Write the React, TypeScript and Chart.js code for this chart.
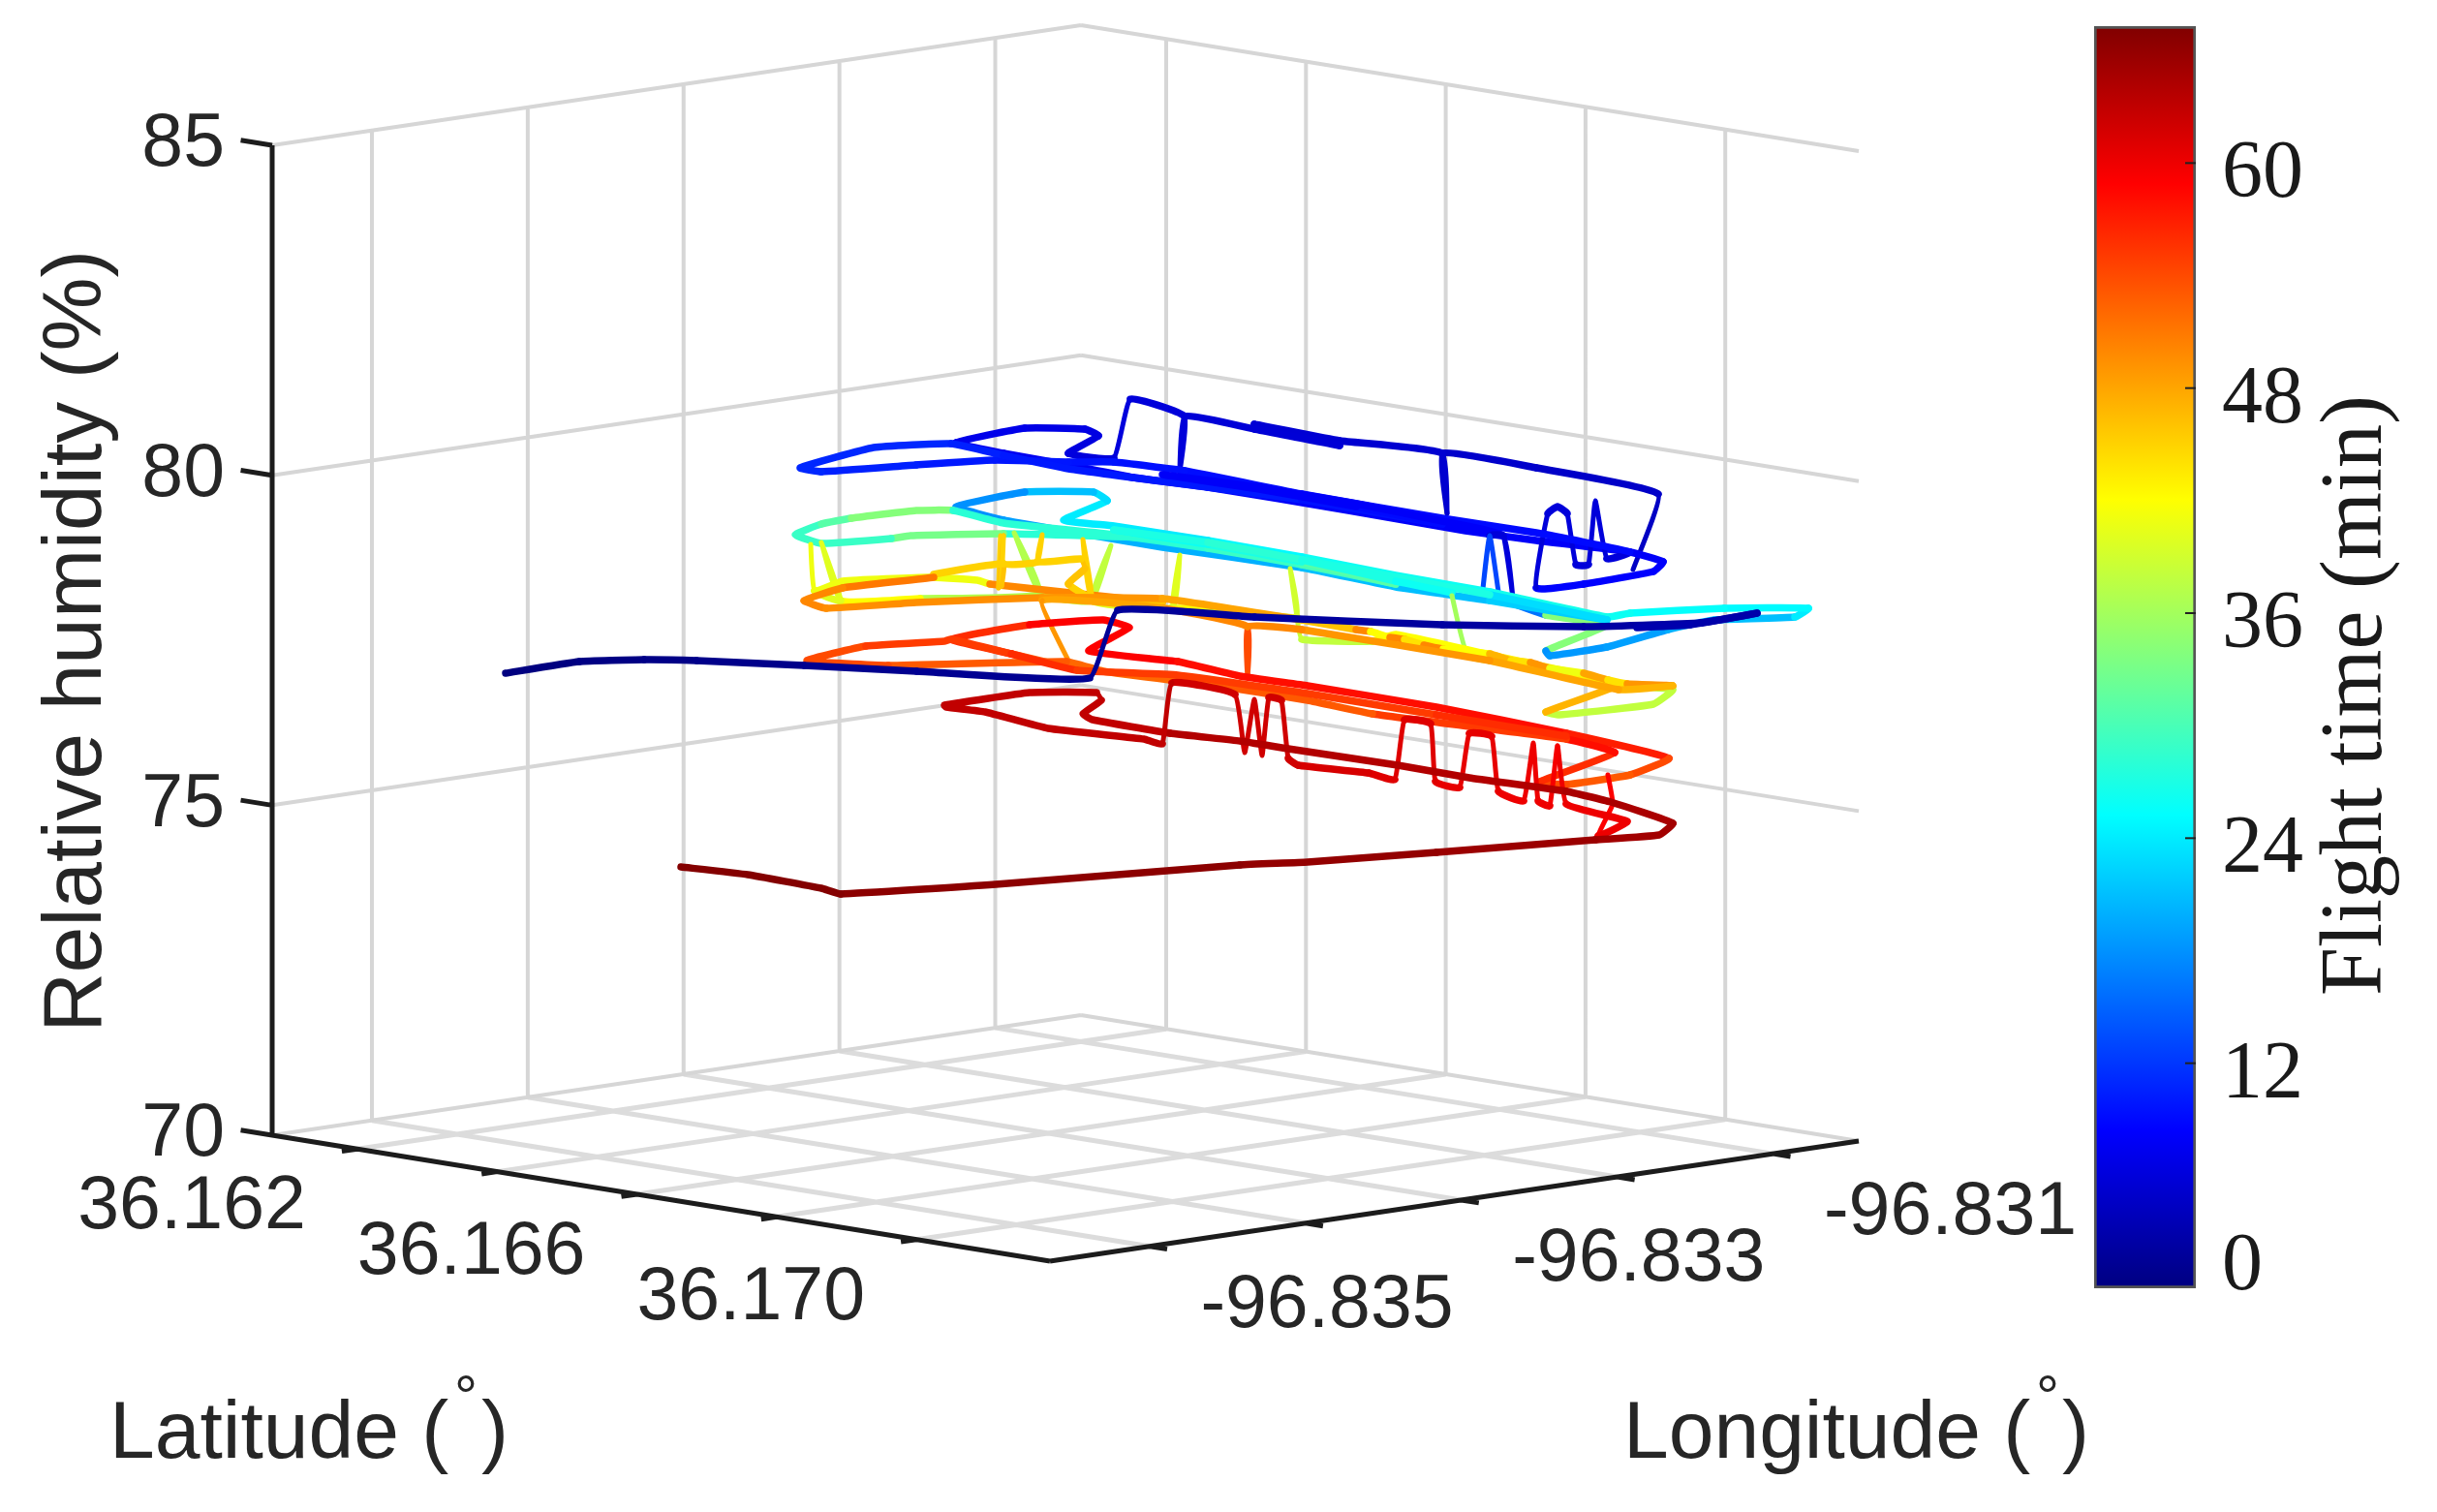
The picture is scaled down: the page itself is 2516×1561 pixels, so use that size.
import { useEffect, useRef } from 'react'
import { Chart, registerables } from 'chart.js'
Chart.register(...registerables)

const W = 2516
const H = 1561

// axis ranges and ticks
const lonMin = -96.83564
const lonMax = -96.83045
const latMin = 36.16078
const latMax = 36.17191
const rhMin = 70
const rhMax = 85
const lonTicks = [-96.835, -96.834, -96.833, -96.832, -96.831]
const latTicks = [36.162, 36.164, 36.166, 36.168, 36.170]
const rhTicks = [70, 75, 80, 85]
const lonLabels = ['-96.835', '-96.833', '-96.831']
const latLabels = ['36.162', '36.166', '36.170']
const timeMax = 67.3
const timeTicks = [0, 12, 24, 36, 48, 60]

// flight track, in view units, with minutes
const navyX = [522, 598, 665, 719, 830, 946, 1125, 1154, 1295, 1489, 1635, 1756, 1814, 1745, 1690]
const navyY = [695, 683, 681, 682, 687, 693, 700, 630, 637, 645, 647, 643, 633, 645, 648]
const navyT = [0, 0.3, 0.5, 0.7, 1, 1.2, 1.5, 1.7, 2, 2.2, 2.4, 2.6, 2.8, 3, 3.2]

const topX = [1686, 1712, 1586, 1489, 1494, 1489, 1383, 1295, 1383, 1295, 1223, 1218, 1223, 1167, 1150, 1103, 1134, 1120, 1058, 987, 1036, 1103, 1170, 1247, 1392, 1513, 1586, 1683, 1717, 1707, 1635, 1586, 1598, 1608, 1618, 1627, 1640, 1647, 1659, 1683, 1586, 1489, 1344, 1223, 1150, 1103, 1027, 946, 848, 826, 902, 982, 1036, 1103, 1200, 1344, 1489, 1400, 1300, 1200, 1300, 1400, 1489, 1552, 1562, 1552, 1538, 1530, 1538, 1548]
const topY = [588, 510, 483, 468, 530, 468, 455, 438, 460, 443, 430, 487, 430, 412, 473, 468, 450, 443, 442, 457, 468, 480, 493, 503, 527, 548, 558, 570, 580, 590, 603, 607, 530, 523, 530, 583, 583, 517, 577, 570, 550, 535, 510, 486, 477, 477, 475, 480, 487, 483, 462, 458, 470, 484, 497, 516, 541, 523, 505, 490, 503, 520, 538, 553, 618, 553, 553, 617, 553, 618]
const topT = [4.5, 4.8, 5, 5.2, 5.3, 5.4, 5.5, 5.6, 5.7, 5.8, 5.9, 6, 6, 6.1, 6.2, 6.3, 6.5, 6.7, 7, 7.2, 7.4, 7.6, 7.8, 8, 8, 8, 8, 8, 8.2, 8.4, 8.6, 6, 6, 6, 6, 6, 6, 6, 6, 9, 9, 9, 9.2, 9.4, 9.6, 9.8, 10, 10.5, 11, 11, 11, 10.5, 10, 10, 10, 9.5, 9, 8, 8, 8, 8, 8, 8, 6, 6, 6, 13, 13, 13, 13]

const cyanX = [1548, 1596, 1659, 1596, 1600, 1659, 1722, 1770, 1853, 1867, 1780, 1683, 1659, 1538, 1441, 1344, 1247, 1150, 1098, 1143, 1129, 1058, 987, 1036, 1100, 1200, 1344, 1441, 1538, 1659, 1538, 1344, 1200, 1036, 940, 920, 848, 821, 848, 879, 946, 984, 1036, 1150, 1247, 1344, 1441, 1344, 1247, 1150, 1247, 1344, 1441, 1499, 1499]
const cyanY = [618, 635, 645, 672, 677, 668, 650, 640, 637, 628, 628, 633, 637, 611, 594, 575, 558, 543, 537, 517, 508, 508, 523, 537, 548, 565, 586, 606, 620, 640, 614, 578, 556, 551, 553, 556, 561, 552, 541, 535, 527, 527, 540, 552, 566, 583, 603, 580, 562, 547, 560, 578, 600, 612, 615]
const cyanT = [16, 34, 34, 18, 18.5, 19, 20, 21, 24, 25, 25.5, 26, 26.5, 26, 26, 25, 24, 24, 24, 23, 21, 18, 18, 19, 20, 20, 21, 21, 22, 23, 27, 28, 28, 33, 33, 29, 29, 29, 31, 34, 34, 28, 28, 28, 29, 30, 31, 27, 26, 27, 28, 27, 26, 27, 36]

const yellowX = [1499, 1516, 1600, 1671, 1727, 1707, 1610, 1596, 1671, 1635, 1538, 1441, 1417, 1344, 1339, 1332, 1339, 1247, 1211, 1218, 1211, 1127, 1147, 1127, 1074, 1047, 1074, 950, 868, 848, 868, 841, 837, 841, 870, 960, 1009, 1022, 1200, 1127, 1118, 1127, 1103, 1120, 1116, 1071, 1076, 1071, 1036, 1033, 1031, 1036, 1034, 1036, 964, 964, 870, 830, 853, 946, 1076, 1200, 1344, 1400, 1415, 1435, 1450, 1470, 1490, 1538, 1560, 1580, 1600, 1635, 1660, 1680, 1727, 1671, 1538, 1344, 1288, 1288, 1288, 1200, 1076, 1107]
const yellowY = [615, 677, 690, 707, 712, 727, 738, 735, 707, 697, 676, 655, 662, 660, 637, 587, 637, 627, 627, 573, 627, 620, 563, 620, 613, 550, 613, 618, 620, 560, 620, 610, 562, 610, 600, 596, 599, 603, 622, 617, 557, 617, 603, 587, 577, 580, 552, 580, 582, 553, 607, 553, 605, 582, 593, 596, 607, 620, 628, 622, 617, 618, 640, 650, 652, 658, 660, 666, 670, 675, 682, 684, 690, 695, 702, 706, 708, 712, 682, 650, 647, 700, 647, 628, 620, 690]
const yellowT = [36, 36.5, 37, 38, 38, 38, 38, 47, 44, 43, 42, 42, 38, 38.5, 39, 39, 39, 42, 40, 40, 40, 38, 38, 38, 37, 37, 37, 42, 40, 40, 40, 41, 41, 41, 41, 41, 41, 50, 46, 45, 45, 45, 46, 46, 45, 45, 45, 45, 45, 45, 46, 45, 46, 45, 45, 51, 50, 50, 49.5, 49.5, 49, 48, 46, 50, 42, 50, 44, 50, 42, 47, 44, 49, 41, 48, 44, 49, 47, 48, 49, 50, 54, 54, 50, 48, 49, 50]

const redX = [1107, 1044, 982, 1063, 1139, 1166, 1124, 1216, 1280, 1350, 1483, 1617, 1723, 1683, 1617, 1590, 1667, 1617, 1517, 1417, 1350, 1250, 1216, 1139, 1101, 917, 833, 894, 975, 982, 1044, 1112, 1216, 1350, 1483, 1617]
const redY = [690, 675, 660, 645, 640, 648, 672, 683, 698, 708, 730, 757, 783, 800, 810, 807, 777, 763, 750, 737, 723, 707, 703, 693, 683, 687, 682, 667, 662, 660, 675, 692, 697, 716, 738, 760]
const redT = [53, 56, 56, 59, 59, 59, 59, 58, 58, 58, 58, 57, 54, 53, 54, 56, 58, 55, 55, 53, 53, 52, 52, 52, 53, 54, 54, 55, 55, 55, 56, 55, 55, 55, 56, 56]

const darkX = [1660, 1665, 1650, 1680, 1617, 1608, 1600, 1588, 1583, 1573, 1547, 1540, 1517, 1507, 1482, 1477, 1450, 1440, 1413, 1340, 1330, 1323, 1310, 1303, 1295, 1285, 1275, 1210, 1200, 1181, 1082, 1017, 977, 975, 1063, 1132, 1137, 1118, 1128, 1208, 1280, 1330, 1443, 1517, 1617, 1663, 1727, 1713, 1647, 1483, 1350, 1280, 1028, 868, 848, 772, 703]
const darkY = [800, 830, 863, 848, 830, 770, 832, 827, 767, 827, 817, 760, 757, 813, 807, 747, 743, 805, 798, 790, 783, 723, 720, 780, 722, 777, 717, 705, 768, 763, 752, 735, 730, 728, 715, 715, 723, 737, 743, 757, 765, 773, 790, 803, 817, 828, 850, 862, 867, 880, 890, 893, 913, 923, 917, 903, 895]
const darkT = [59, 59, 60, 60, 60, 59.5, 60, 60, 60, 60, 60.5, 60.5, 60.5, 60.5, 61, 61, 61, 61, 61.5, 62, 62, 62, 62, 62, 62, 62, 62, 63, 63, 63, 63, 63, 63, 63, 63, 63, 63, 63, 63, 64, 64, 64, 64, 64, 64.5, 64.5, 65, 65, 65.5, 66, 66, 66.5, 66.5, 67, 67, 67, 67.3]

// MATLAB jet
function jet(v: number) {
    const c = (d: number) => Math.round(255 * Math.max(0, Math.min(1, 1.5 - Math.abs(4 * v - d))))
    return `rgb(${c(3)},${c(2)},${c(1)})`
}
const timeColor = (t: number) => jet(t / timeMax)

// fixed 3D view of the box, as seen in the figure
function project(lon: number, lat: number, rh: number) {
    const a = (lon - lonMin) / (lonMax - lonMin)
    const b = (latMax - lat) / (latMax - latMin)
    return { x: 1084 + a * 835 - b * 803, y: 1302 - a * 124 - b * 130 - (rh - rhMin) * 68.13 }
}
const gap = { x: NaN, y: NaN }

function gridPoints(kind: 'wall' | 'floor') {
    const pts: { x: number; y: number }[] = []
    const line = (a: { x: number; y: number }, b: { x: number; y: number }) => pts.push(a, b, gap)
    if (kind === 'wall') {
        lonTicks.forEach(l => line(project(l, latMin, rhMin), project(l, latMin, rhMax)))
        latTicks.forEach(l => line(project(lonMax, l, rhMin), project(lonMax, l, rhMax)))
        rhTicks.forEach(r => {
            line(project(lonMin, latMin, r), project(lonMax, latMin, r))
            line(project(lonMax, latMin, r), project(lonMax, latMax, r))
        })
    } else {
        lonTicks.forEach(l => line(project(l, latMin, rhMin), project(l, latMax, rhMin)))
        latTicks.forEach(l => line(project(lonMin, l, rhMin), project(lonMax, l, rhMin)))
    }
    return pts
}

function axisPoints() {
    const pts: { x: number; y: number }[] = []
    const line = (a: { x: number; y: number }, b: { x: number; y: number }) => pts.push(a, b, gap)
    line(project(lonMin, latMin, rhMin), project(lonMin, latMin, rhMax))
    line(project(lonMin, latMin, rhMin), project(lonMin, latMax, rhMin))
    line(project(lonMin, latMax, rhMin), project(lonMax, latMax, rhMin))
    rhTicks.forEach(r => line(project(lonMin, latMin, r), project(lonMin, latMin - 0.00045, r)))
    latTicks.forEach(l => line(project(lonMin, l, rhMin), project(lonMin - 0.0001, l, rhMin)))
    lonTicks.forEach(l => line(project(l, latMax, rhMin), project(l, latMax + 0.00025, rhMin)))
    return pts
}

function leg(xs: number[], ys: number[], ts: number[]) {
    return {
        data: xs.map((x, i) => ({ x, y: ys[i] })),
        showLine: true,
        pointRadius: 0,
        borderWidth: 7.5,
        tension: 0.12,
        borderCapStyle: 'round' as const,
        borderJoinStyle: 'round' as const,
        segment: {
            borderColor: (ctx: any) => timeColor(ts[ctx.p0DataIndex]),
            // the climbs between levels are thinner in the figure
            borderWidth: (ctx: any) => Math.abs(ctx.p1.y - ctx.p0.y) > 1.5 * Math.abs(ctx.p1.x - ctx.p0.x) ? 5 : 7.5,
        },
    }
}

const sans = '"Liberation Sans", Arial, sans-serif'
const serif = '"Liberation Serif", serif'
const textColor = '#262626'

const axisText = {
    id: 'axisText',
    afterDraw(chart: Chart) {
        const { ctx, scales } = chart
        const put = (s: string, x: number, y: number, font: string, align: CanvasTextAlign, base: CanvasTextBaseline, rot = 0) => {
            ctx.save()
            ctx.translate(scales.x.getPixelForValue(x), scales.y.getPixelForValue(y))
            ctx.rotate(rot)
            ctx.font = font
            ctx.fillStyle = textColor
            ctx.textAlign = align
            ctx.textBaseline = base
            ctx.fillText(s, 0, 0)
            ctx.restore()
        }
        const tickFont = `77px ${sans}`
        const titleFont = `84px ${sans}`
        rhTicks.forEach(r => {
            const p = project(lonMin, latMin, r)
            put(String(r), 232, p.y, tickFont, 'right', 'middle')
        })
        latLabels.forEach(l => {
            const p = project(lonMin, Number(l), rhMin)
            put(l, p.x - 171, p.y + 61, tickFont, 'center', 'middle')
        })
        lonLabels.forEach(l => {
            const p = project(Number(l), latMax, rhMin)
            put(l, p.x + 183, p.y + 62, tickFont, 'center', 'middle')
        })
        put('Latitude (', 113, 1505, titleFont, 'left', 'alphabetic')
        put(')', 497, 1505, titleFont, 'left', 'alphabetic')
        put('°', 481, 1462, `60px ${sans}`, 'center', 'alphabetic')
        put('Longitude (', 1676, 1505, titleFont, 'left', 'alphabetic')
        put(')', 2129, 1505, titleFont, 'left', 'alphabetic')
        put('°', 2114, 1462, `60px ${sans}`, 'center', 'alphabetic')
        put('Relative humidity (%)', 104, 662, `85.5px ${sans}`, 'center', 'alphabetic', -Math.PI / 2)
    },
}

const barTicks = {
    id: 'barTicks',
    afterDraw(chart: Chart) {
        const { ctx, chartArea, scales } = chart
        ctx.save()
        ctx.strokeStyle = '#222'
        ctx.lineWidth = 2
        ctx.font = `84px ${serif}`
        ctx.fillStyle = '#1a1a1a'
        ctx.textBaseline = 'middle'
        timeTicks.forEach(t => {
            const y = scales.y.getPixelForValue(t)
            if (t > 0) {
                ctx.beginPath()
                ctx.moveTo(chartArea.right - 11, y)
                ctx.lineTo(chartArea.right, y)
                ctx.stroke()
            }
            // the 0 label sits inside the bar's end in the figure
            ctx.fillText(String(t), 2294 - 2162, t > 0 ? y + 13 : y - 21)
        })
        ctx.font = `90px ${serif}`
        ctx.textAlign = 'center'
        ctx.textBaseline = 'alphabetic'
        ctx.translate(2458 - 2162, 718)
        ctx.rotate(-Math.PI / 2)
        ctx.fillText('Flight time (min)', 0, 0)
        ctx.restore()
    },
}

export default function App() {
    const mainRef = useRef<HTMLCanvasElement>(null)
    const barRef = useRef<HTMLCanvasElement>(null)

    useEffect(() => {
        const main = new Chart(mainRef.current!, {
            type: 'scatter',
            data: {
                datasets: [
                    leg(navyX, navyY, navyT),
                    leg(darkX, darkY, darkT),
                    leg(redX, redY, redT),
                    leg(yellowX, yellowY, yellowT),
                    leg(cyanX, cyanY, cyanT),
                    leg(topX, topY, topT),
                    { data: axisPoints(), showLine: true, pointRadius: 0, borderColor: '#1c1c1c', borderWidth: 5 },
                    { data: gridPoints('wall'), showLine: true, pointRadius: 0, borderColor: '#d6d6d6', borderWidth: 4 },
                    { data: gridPoints('floor'), showLine: true, pointRadius: 0, borderColor: '#dcdcdc', borderWidth: 5 },
                ],
            },
            options: {
                animation: false,
                responsive: false,
                events: [],
                layout: { padding: 0 },
                scales: {
                    x: { type: 'linear', min: 0, max: W, display: false },
                    y: { type: 'linear', min: 0, max: H, reverse: true, display: false },
                },
                plugins: { legend: { display: false }, tooltip: { enabled: false } },
            },
            plugins: [axisText],
        })

        const bar = new Chart(barRef.current!, {
            type: 'bar',
            data: {
                labels: ['Flight time'],
                datasets: [{
                    data: [[0, timeMax]] as any,
                    barPercentage: 1,
                    categoryPercentage: 1,
                    borderColor: '#555',
                    borderWidth: 3,
                    borderSkipped: false,
                    backgroundColor: (context: any) => {
                        const { ctx, chartArea } = context.chart
                        if (!chartArea) return '#000'
                        const g = ctx.createLinearGradient(0, chartArea.bottom, 0, chartArea.top)
                        for (let i = 0; i <= 8; i++) g.addColorStop(i / 8, jet(i / 8))
                        return g
                    },
                }],
            },
            options: {
                animation: false,
                responsive: false,
                events: [],
                layout: { padding: { top: 27, bottom: H - 1330 } },
                scales: {
                    x: { display: false },
                    y: {
                        position: 'right',
                        min: 0,
                        max: timeMax,
                        afterFit: (s: any) => {
                            s.width = 2516 - 2267
                            s.paddingTop = 0
                            s.paddingBottom = 0
                        },
                        grid: { display: false },
                        border: { display: false },
                        ticks: { display: false },
                    },
                },
                plugins: { legend: { display: false }, tooltip: { enabled: false } },
            },
            plugins: [barTicks],
        })

        return () => {
            main.destroy()
            bar.destroy()
        }
    }, [])

    const soft = 'blur(0.7px)'
    return (
        <div style={{ position: 'absolute', left: 0, top: 0, width: W, height: H, background: 'white', overflow: 'hidden' }}>
            <canvas ref={mainRef} width={W} height={H} style={{ position: 'absolute', left: 0, top: 0, width: W, height: H, filter: soft }} />
            <canvas ref={barRef} width={W - 2162} height={H} style={{ position: 'absolute', left: 2162, top: 0, width: W - 2162, height: H, filter: soft }} />
        </div>
    )
}
